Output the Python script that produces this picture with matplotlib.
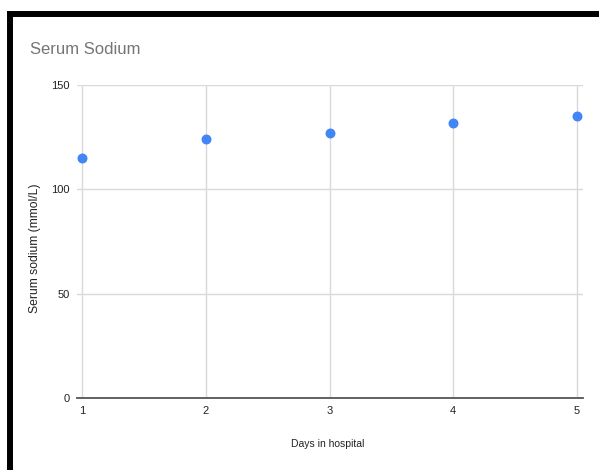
import matplotlib
matplotlib.use('Agg')
import matplotlib.pyplot as plt
from matplotlib.patches import Rectangle

# Serum sodium by day in hospital
days = [1, 2, 3, 4, 5]
sodium = [115, 124, 127, 132, 135]
y_ticks = [0, 50, 100, 150]

plt.rcParams['font.family'] = ['Liberation Sans', 'DejaVu Sans']

W, H = 599, 470
fig = plt.figure(figsize=(W / 100, H / 100), dpi=100)
fig.patch.set_facecolor('white')

# black frame on top and left, as in the screenshot
fig.patches.append(Rectangle((10 / W, -0.1), 1.2, 1.1 - 14 / H, transform=fig.transFigure,
                             fill=False, edgecolor='black', linewidth=4.3, zorder=10))

ax = fig.add_axes([77 / W, 72 / H, (583 - 77) / W, (398 - 85) / H])
ax.scatter(days, sodium, s=38, color='#4285F4', zorder=3, clip_on=False)

ax.set_xlim(1 - 5 / 123.75, 5 + 6 / 123.75)
ax.set_ylim(0, 150)
ax.set_xticks(days)
ax.set_yticks(y_ticks)
ax.grid(True, color='#d9d9d9', linewidth=1)
ax.set_axisbelow(True)
for s in ['top', 'right', 'left']:
    ax.spines[s].set_visible(False)
ax.spines['bottom'].set_color('#555555')
ax.spines['bottom'].set_linewidth(1.3)
ax.tick_params(axis='both', length=0, labelsize=8, colors='#222222')
ax.tick_params(axis='x', pad=6)
ax.tick_params(axis='y', pad=5)

fig.text(30 / W, 1 - 50 / H, 'Serum Sodium', fontsize=12, color='#757575', va='center', ha='left')
fig.text(35 / W, 1 - 248 / H, 'Serum sodium (mmol/L)', fontsize=8.7, color='#222222',
         rotation=90, va='center', ha='center')
fig.text(328 / W, 1 - 444 / H, 'Days in hospital', fontsize=7.5, color='#222222',
         va='center', ha='center')

fig.savefig('out.png', dpi=100)
